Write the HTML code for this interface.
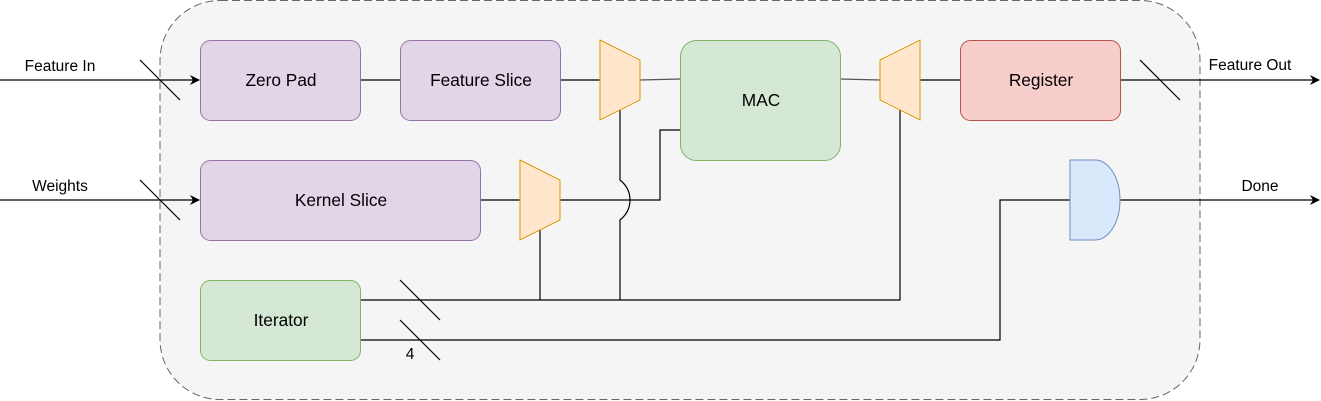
<!DOCTYPE html>
<html><head><style>body{margin:0;background:#fff}svg{display:block}text{font-family:"Liberation Sans",Arial,sans-serif;}</style></head><body>
<svg width="1321" height="401" viewBox="0 0 1321 401" xmlns="http://www.w3.org/2000/svg">
<defs><marker id="a" markerWidth="10" markerHeight="10" refX="9" refY="5" orient="auto" markerUnits="userSpaceOnUse"><path d="M0,0 L10,5 L0,10 L3,5 Z" fill="#000"/></marker></defs>
<rect x="160" y="0.5" width="1040" height="399" rx="60" fill="#f5f5f5" stroke="#666" stroke-dasharray="8 4"/>
<g stroke="#000" fill="none" stroke-width="1.2">
<line x1="0" y1="80" x2="199" y2="80" marker-end="url(#a)"/>
<line x1="140" y1="60" x2="180" y2="100"/>
<line x1="0" y1="200" x2="199" y2="200" marker-end="url(#a)"/>
<line x1="140" y1="180" x2="180" y2="220"/>
<line x1="360" y1="80" x2="400" y2="80"/>
<line x1="560" y1="80" x2="600" y2="80"/>
<line x1="640" y1="80" x2="680" y2="79" stroke="#555"/>
<line x1="840" y1="79" x2="880" y2="80" stroke="#555"/>
<line x1="920" y1="80" x2="960" y2="80"/>
<line x1="1120" y1="80" x2="1319" y2="80" marker-end="url(#a)"/>
<line x1="1140" y1="60" x2="1180" y2="100"/>
<line x1="480" y1="200" x2="520" y2="200"/>
<polyline points="560,200 660,200 660,130 680,130"/>
<path d="M620,110 L620,180 Q630,188 630,200 Q630,212 620,220 L620,300"/>
<line x1="540" y1="230" x2="540" y2="300"/>
<polyline points="360,300 900,300 900,110"/>
<polyline points="360,340 1000,340 1000,200 1070,200"/>
<line x1="400" y1="280" x2="440" y2="320"/>
<line x1="400" y1="320" x2="440" y2="360"/>
<line x1="1120" y1="200" x2="1319" y2="200" marker-end="url(#a)"/>
</g>
<g stroke="#9673a6" fill="#e1d5e7">
<rect x="200.5" y="40.5" width="160" height="80" rx="10"/>
<rect x="400.5" y="40.5" width="160" height="80" rx="10"/>
<rect x="200.5" y="160.5" width="280" height="80" rx="10"/>
</g>
<rect x="200.5" y="280.5" width="160" height="80" rx="10" fill="#d5e8d4" stroke="#82b366"/>
<rect x="680.5" y="40.5" width="160" height="120" rx="16" fill="#d5e8d4" stroke="#82b366"/>
<rect x="960.5" y="40.5" width="160" height="80" rx="10" fill="#f8cecc" stroke="#b85450"/>
<g stroke="#d79b00" fill="#ffe6cc">
<polygon points="600,40 640,60 640,100 600,120"/>
<polygon points="520,160 560,180 560,220 520,240"/>
<polygon points="880,60 920,40 920,120 880,100"/>
</g>
<path d="M1070,160 L1095,160 A25,40 0 0 1 1095,240 L1070,240 Z" fill="#dae8fc" stroke="#6c8ebf"/>
<g font-size="17.3" text-anchor="middle" fill="#000">
<text x="281" y="86">Zero Pad</text>
<text x="481" y="86">Feature Slice</text>
<text x="341" y="206">Kernel Slice</text>
<text x="281" y="326">Iterator</text>
<text x="761" y="106">MAC</text>
<text x="1041" y="86">Register</text>
</g>
<g font-size="15.5" text-anchor="middle" fill="#000">
<text x="60" y="71">Feature In</text>
<text x="60" y="191">Weights</text>
<text x="1250" y="70">Feature Out</text>
<text x="1260" y="191">Done</text>
<text x="410" y="359">4</text>
</g>
</svg>
</body></html>
